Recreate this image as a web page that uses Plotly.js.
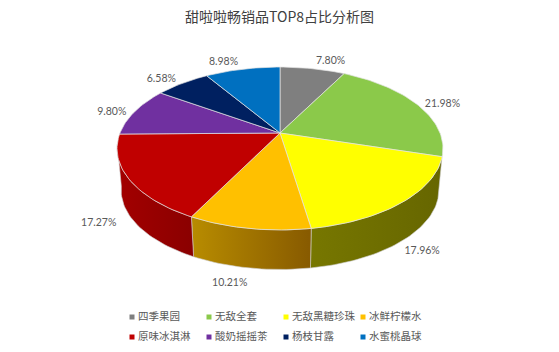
<!DOCTYPE html>
<html><head><meta charset="utf-8">
<script src="https://cdn.plot.ly/plotly-3.0.1.min.js"></script>
<style>html,body{margin:0;padding:0;background:#fff}</style></head>
<body><div id="chart" style="width:559px;height:352px"></div>
<script>
const titleText = '甜啦啦畅销品TOP8占比分析图';
const categories = ['四季果园','无敌全套','无敌黑糖珍珠','冰鲜柠檬水','原味冰淇淋','酸奶摇摇茶','杨枝甘露','水蜜桃晶球'];
const shares = [7.80,21.98,17.96,10.21,17.27,9.80,6.58,8.98];
const colors = ['#7f7f7f','#8bc94a','#ffff00','#ffc000','#c00000','#7030a0','#002060','#0070c0'];
const sideLeft  = ['#666666','#6c9e3a','#777700','#b88c00','#a30000','#5a2680','#001a4d','#005a9a'];
const sideRight = ['#666666','#6c9e3a','#666600','#875a00','#8a0000','#5a2680','#001a4d','#005a9a'];
const labelOffsets = [[18,-7],[25,0],[19,50],[-19,55],[-30,45],[-23,1],[-21,-4],[-19,-7]];

// view of the tilted pie
const view = {cx:280, cy:133, a:160, b:78.5, k:0.19, depth:42, shrink:0.975, sideFrom:107, sideTo:262};
const total = shares.reduce((s,v)=>s+v,0);
function rim(deg, lower){
  const t = deg*Math.PI/180, u = Math.sin(t), v = Math.cos(t), d = 1+view.k*v;
  const s = lower ? view.shrink : 1;
  return [view.cx + s*view.a*u/d, view.cy + (lower?view.depth:0) - s*view.b*v/d];
}
function arc(from, to, lower){
  const pts=[], n=Math.max(2,Math.ceil(Math.abs(to-from)/1.5));
  for(let i=0;i<=n;i++) pts.push(rim(from+(to-from)*i/n, lower));
  return pts;
}
const traces=[];
let cum=0;
const slices = shares.map(v=>{const s={from:cum/total*360,to:(cum+v)/total*360};cum+=v;return s;});
// side faces
slices.forEach((s,i)=>{
  const f=Math.max(s.from,view.sideFrom), t=Math.min(s.to,view.sideTo);
  if(t<=f) return;
  const pts=arc(f,t,false).concat(arc(t,f,true)); pts.push(pts[0]);
  traces.push({type:'scatter',mode:'lines',x:pts.map(p=>p[0]),y:pts.map(p=>p[1]),fill:'toself',
    fillgradient:{type:'horizontal',colorscale:[[0,sideLeft[i]],[1,sideRight[i]]]},
    line:{color:'#d0d0d0',width:0.6},hoverinfo:'skip',showlegend:false});
});
// top faces
slices.forEach((s,i)=>{
  const pts=[[view.cx,view.cy]].concat(arc(s.from,s.to,false)); pts.push(pts[0]);
  traces.push({type:'scatter',mode:'lines',x:pts.map(p=>p[0]),y:pts.map(p=>p[1]),fill:'toself',fillcolor:colors[i],
    line:{color:'#e4e4e4',width:0.7},name:categories[i],hoverinfo:'name',showlegend:false});
});
// value labels
const lab = slices.map((s,i)=>{const p=rim((s.from+s.to)/2,false);return [p[0]+labelOffsets[i][0],p[1]+labelOffsets[i][1]];});
traces.push({type:'scatter',mode:'text',x:lab.map(p=>p[0]),y:lab.map(p=>p[1]),text:shares.map(v=>v.toFixed(2)+'%'),
  textposition:'middle center',textfont:{family:'Lato, "Liberation Sans", sans-serif',size:10.5,color:'#595959'},hoverinfo:'skip',showlegend:false});
// legend, two rows of four
const legend={x0:132,dx:77,y0:317,dy:20,gap:6};
const lx=categories.map((c,i)=>legend.x0+legend.dx*(i%4)), ly=categories.map((c,i)=>legend.y0+legend.dy*Math.floor(i/4));
traces.push({type:'scatter',mode:'markers',x:lx,y:ly,marker:{symbol:'square',size:5,color:colors},hoverinfo:'skip',showlegend:false});
traces.push({type:'scatter',mode:'text',x:lx.map(v=>v+legend.gap),y:ly,text:categories,textposition:'middle right',
  textfont:{family:'"Noto Sans CJK SC", sans-serif',size:10.5,color:'#595959'},hoverinfo:'skip',showlegend:false});

Plotly.newPlot('chart',traces,{
  width:559,height:352,margin:{l:0,r:0,t:0,b:0},paper_bgcolor:'#fff',plot_bgcolor:'#fff',showlegend:false,
  title:{text:titleText,x:0.5,xanchor:'center',y:0.952,yanchor:'middle',font:{family:'"Noto Sans CJK SC", sans-serif',size:14,color:'#404040'}},
  xaxis:{range:[0,559],visible:false,fixedrange:true},
  yaxis:{range:[352,0],visible:false,fixedrange:true}
},{displayModeBar:false,responsive:false});
</script></body></html>
